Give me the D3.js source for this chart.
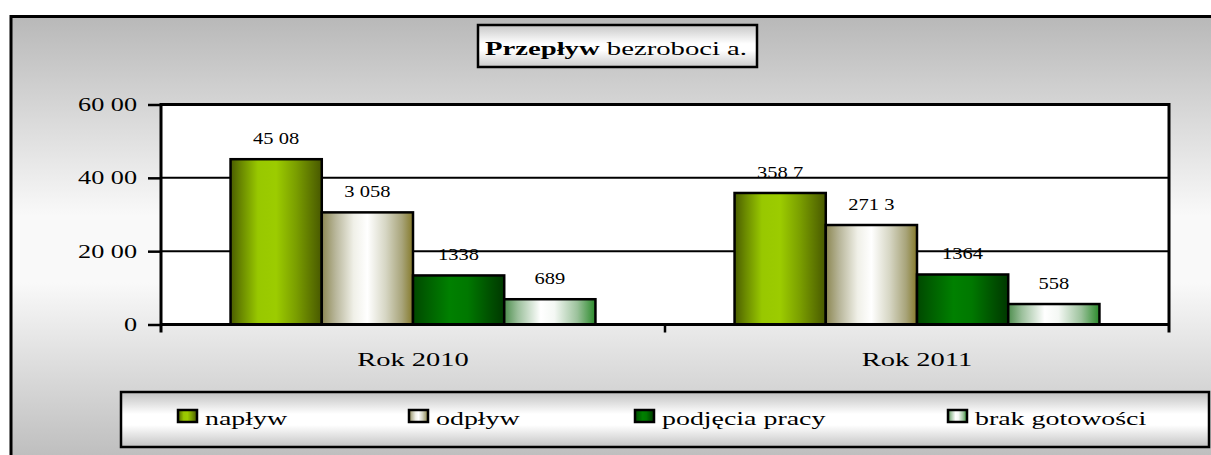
<!DOCTYPE html>
<html><head><meta charset="utf-8">
<script src="https://cdn.jsdelivr.net/npm/d3@7"></script>
<style>
html,body{margin:0;padding:0;background:#fff;}
svg{display:block;font-family:"Liberation Serif","Times New Roman",serif;}
</style></head>
<body><svg id="c" width="1211" height="455"></svg>
<script>
// ---- data ----
const categories = ["Rok 2010", "Rok 2011"];
const seriesNames = ["napływ", "odpływ", "podjęcia pracy", "brak gotowości"];
const naplyw = [4508, 3587];
const odplyw = [3058, 2713];
const podjecia = [1338, 1364];
const brak = [689, 558];
// labels as printed on the reference
const naplywLabels = ["45 08", "358 7"];
const odplywLabels = ["3 058", "271 3"];
const podjeciaLabels = ["1338", "1364"];
const brakLabels = ["689", "558"];
const yTicks = [0, 2000, 4000, 6000];
const yTickLabels = ["0", "20 00", "40 00", "60 00"];
const titleBold = "Przepływ";
const titleRest = " bezroboci a.";

const seriesValues = [naplyw, odplyw, podjecia, brak];
const seriesLabels = [naplywLabels, odplywLabels, podjeciaLabels, brakLabels];

// ---- layout ----
const svg = d3.select("#c");
const plot = {left: 161, right: 1169, top: 104.5, bottom: 324.5};
const gradStops = [
  [[0,"#4a5c00"],[0.12,"#6b8a00"],[0.3,"#98c800"],[0.5,"#9ccc00"],[0.72,"#7a9e00"],[1,"#485800"]],
  [[0,"#8c8752"],[0.15,"#b8b69a"],[0.35,"#f0f0e8"],[0.5,"#ffffff"],[0.7,"#d6d6c4"],[0.88,"#a8a47a"],[1,"#857a2a"]],
  [[0,"#004800"],[0.15,"#005e00"],[0.4,"#008000"],[0.6,"#007800"],[0.85,"#004f00"],[1,"#003800"]],
  [[0,"#4e8e4e"],[0.15,"#9cc09c"],[0.4,"#ffffff"],[0.55,"#f4f8f4"],[0.8,"#9cc29c"],[1,"#2a8a2a"]]
];

const defs = svg.append("defs");
function vgrad(id, stops, y1, y2) {
  const g = defs.append("linearGradient").attr("id", id)
    .attr("gradientUnits","userSpaceOnUse").attr("x1",0).attr("x2",0).attr("y1",y1).attr("y2",y2);
  stops.forEach(s => g.append("stop").attr("offset", s[0]).attr("stop-color", s[1]));
}
vgrad("bg", [[0,"#b8b8b8"],[0.45,"#f9f9f9"],[0.6,"#f9f9f9"],[1,"#bdbdbd"]], 16, 460);
vgrad("titleBg", [[0,"#c4c4c4"],[0.45,"#ffffff"],[0.6,"#ffffff"],[1,"#c8c8c8"]], 24, 68);
vgrad("legBg", [[0,"#c0c0c0"],[0.4,"#ffffff"],[0.6,"#ffffff"],[1,"#c4c4c4"]], 392, 447);
gradStops.forEach((st, i) => {
  const g = defs.append("linearGradient").attr("id","bar"+i)
    .attr("x1",0).attr("x2",1).attr("y1",0).attr("y2",0);
  st.forEach(s => g.append("stop").attr("offset", s[0]).attr("stop-color", s[1]));
});

// background frame
svg.append("rect").attr("x",11).attr("y",16.5).attr("width",1250).attr("height",500)
  .attr("fill","url(#bg)").attr("stroke","#000").attr("stroke-width",3);

function stretch(sel, factor) {
  sel.each(function(){
    const w = this.getComputedTextLength();
    d3.select(this).attr("textLength", w*factor).attr("lengthAdjust","spacingAndGlyphs");
  });
}

// title
svg.append("rect").attr("x",478).attr("y",25).attr("width",279).attr("height",42)
  .attr("fill","url(#titleBg)").attr("stroke","#000").attr("stroke-width",2.5);
const title = svg.append("text").attr("x",485).attr("y",55).attr("font-size",19).attr("fill","#000");
title.append("tspan").attr("font-weight","bold").text(titleBold);
title.append("tspan").text(titleRest);
title.attr("textLength",262).attr("lengthAdjust","spacingAndGlyphs");

// scales
const x0 = d3.scaleBand().domain(categories).range([plot.left, plot.right]);
const x1 = d3.scaleBand().domain(seriesNames)
  .range([x0.bandwidth()*0.138, x0.bandwidth()*0.862]);
const y = d3.scaleLinear().domain([0, 6000]).range([plot.bottom, plot.top]);

// plot area
svg.append("rect").attr("x",plot.left).attr("y",plot.top)
  .attr("width",plot.right-plot.left).attr("height",plot.bottom-plot.top).attr("fill","#fff");

// gridlines
svg.append("g").selectAll("line").data(yTicks.filter(t => t>0 && t<6000)).join("line")
  .attr("x1",plot.left).attr("x2",plot.right).attr("y1",d=>y(d)).attr("y2",d=>y(d))
  .attr("stroke","#000").attr("stroke-width",2);

// bars
const rows = categories.map((c, ci) => seriesNames.map((s, si) => ({c, s, si, v: seriesValues[si][ci], lab: seriesLabels[si][ci]})));
const gBars = svg.append("g").selectAll("g").data(rows).join("g")
  .attr("transform", (d,i) => `translate(${x0(categories[i])},0)`);
gBars.selectAll("rect").data(d=>d).join("rect")
  .attr("x", d=>x1(d.s)).attr("width", x1.bandwidth())
  .attr("y", d=>y(d.v)).attr("height", d=>y(0)-y(d.v))
  .attr("fill", d=>`url(#bar${d.si})`).attr("stroke","#000").attr("stroke-width",2.5);
const vl = gBars.selectAll("text").data(d=>d).join("text")
  .attr("x", d=>x1(d.s)+x1.bandwidth()/2).attr("y", d=>y(d.v)-15)
  .attr("text-anchor","middle").attr("font-size",16).attr("fill","#000").text(d=>d.lab);
stretch(vl, 1.28);

// plot border (left, top, right) and axis
svg.append("path")
  .attr("d", `M${plot.left},${plot.bottom+8}V${plot.top}H${plot.right}V${plot.bottom+8}`)
  .attr("fill","none").attr("stroke","#000").attr("stroke-width",3);
svg.append("line").attr("x1",plot.left).attr("x2",plot.right).attr("y1",plot.bottom).attr("y2",plot.bottom)
  .attr("stroke","#000").attr("stroke-width",3);

// y axis
const yAxis = d3.axisLeft(y).tickValues(yTicks).tickSize(13).tickPadding(11)
  .tickFormat((d,i)=>yTickLabels[i]);
const gy = svg.append("g").attr("transform",`translate(${plot.left},0)`).call(yAxis);
gy.select(".domain").remove();
gy.selectAll(".tick line").attr("stroke","#000").attr("stroke-width",2.5);
gy.selectAll(".tick text").attr("font-size",19).attr("fill","#000")
  .attr("font-family","Liberation Serif, serif");
stretch(gy.selectAll(".tick text"), 1.38);

// x axis category separators
const sepX = [plot.left + x0.bandwidth()];
svg.append("g").selectAll("line").data(sepX).join("line")
  .attr("x1",d=>d).attr("x2",d=>d).attr("y1",plot.bottom).attr("y2",plot.bottom+8)
  .attr("stroke","#000").attr("stroke-width",2.5);
const cl = svg.append("g").selectAll("text").data(categories).join("text")
  .attr("x", d=>x0(d)+x0.bandwidth()/2).attr("y", 366)
  .attr("text-anchor","middle").attr("font-size",19).attr("fill","#000").text(d=>d);
stretch(cl, 1.5);

// legend
svg.append("rect").attr("x",121).attr("y",392).attr("width",1088).attr("height",55)
  .attr("fill","url(#legBg)").attr("stroke","#000").attr("stroke-width",2.5);
const legendX = [178, 409, 635, 948];
const lg = svg.append("g").selectAll("g").data(seriesNames).join("g")
  .attr("transform",(d,i)=>`translate(${legendX[i]},0)`);
lg.append("rect").attr("x",0).attr("y",410).attr("width",19).attr("height",12)
  .attr("fill",(d,i)=>`url(#bar${i})`).attr("stroke","#000").attr("stroke-width",2.5);
const lt = lg.append("text").attr("x",27).attr("y",425).attr("font-size",18).attr("fill","#000").text(d=>d);
stretch(lt, 1.55);
</script></body></html>
